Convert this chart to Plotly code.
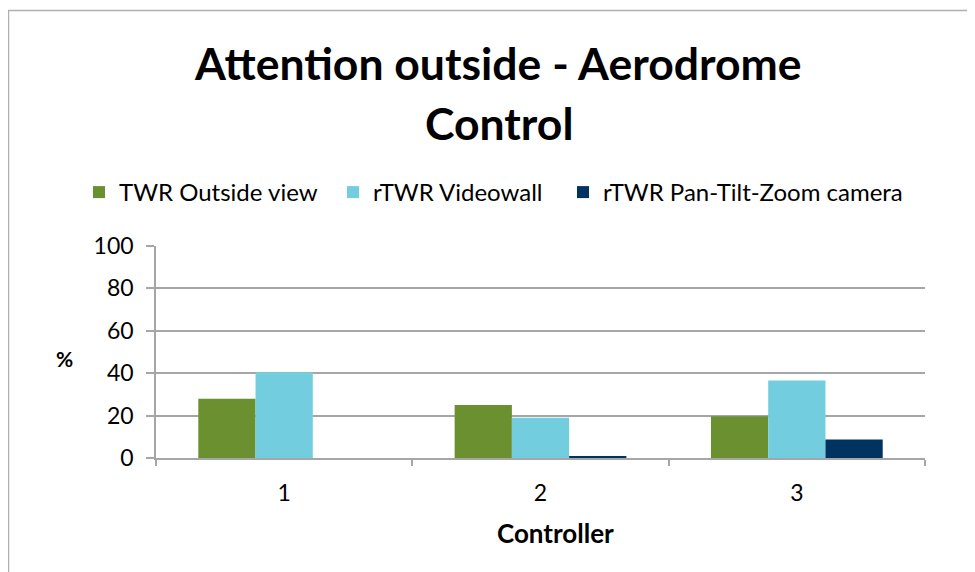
import plotly.graph_objects as go

controllers = ["1", "2", "3"]
series_names = ["TWR Outside view", "rTWR Videowall", "rTWR Pan-Tilt-Zoom camera"]
twr_outside = [28.0, 25.0, 19.7]
rtwr_videowall = [40.4, 19.0, 36.5]
rtwr_ptz = [0.0, 0.9, 8.7]
y_ticks = [0, 20, 40, 60, 80, 100]

colors = ["#6B9030", "#72CEDF", "#00335F"]
FONT = "Lato"
OFF = 8  # page body margin
W, H = 975 - OFF, 572 - OFF
L, R, T, B = 156 - OFF, 50, 246 - OFF, 114
PW, PH = W - L - R, H - T - B


def px(x):
    return (x - OFF - L) / PW


def py(y):
    return (H - B - (y - OFF)) / PH


fig = go.Figure()
legend_ids = ["legend", "legend2", "legend3"]
legend_x = [79, 333, 563]
for name, vals, c, lid in zip(series_names, [twr_outside, rtwr_videowall, rtwr_ptz], colors, legend_ids):
    fig.add_trace(go.Bar(name=name, x=controllers, y=vals, legend=lid,
                         marker=dict(color=c, line=dict(width=0))))

legend_common = dict(orientation="h", xanchor="left", y=py(192.5), yanchor="middle",
                     font=dict(size=24, family=FONT), bgcolor="rgba(0,0,0,0)")
layout_legends = {lid: dict(x=px(lx), **legend_common) for lid, lx in zip(legend_ids, legend_x)}

fig.update_layout(
    width=W, height=H,
    margin=dict(l=L, r=R, t=T, b=B, pad=0),
    paper_bgcolor="white", plot_bgcolor="white",
    barmode="group", bargap=0.33, bargroupgap=0,
    font=dict(family=FONT, color="black"),
    showlegend=True,
    xaxis=dict(type="category", tickson="boundaries", ticks="outside", ticklen=6, tickcolor="#a6a6a6",
               tickwidth=1.5, showline=True, linecolor="#a6a6a6", linewidth=1.5, showgrid=False,
               tickfont=dict(size=23, family=FONT), ticklabelstandoff=14),
    yaxis=dict(range=[0, 100], tickvals=y_ticks, ticks="outside", ticklen=8, tickcolor="#a6a6a6",
               tickwidth=1.5, showline=True, linecolor="#a6a6a6", linewidth=1.5,
               showgrid=True, gridcolor="#a6a6a6", gridwidth=1.5, zeroline=False,
               tickfont=dict(size=23, family=FONT), ticklabelstandoff=8),
    **layout_legends,
)

fig.add_annotation(text="<b>Attention outside - Aerodrome</b>", x=px(498), y=py(62), xref="paper", yref="paper",
                   showarrow=False, xanchor="center", yanchor="middle", font=dict(size=44.5, family=FONT))
fig.add_annotation(text="<b>Control</b>", x=px(499), y=py(123), xref="paper", yref="paper",
                   showarrow=False, xanchor="center", yanchor="middle", font=dict(size=44.5, family=FONT))
fig.add_annotation(text="<b>%</b>", x=px(64), y=py(358), xref="paper", yref="paper",
                   showarrow=False, xanchor="center", yanchor="middle", font=dict(size=21, family=FONT))
fig.add_annotation(text="<b>Controller</b>", x=px(555), y=py(533), xref="paper", yref="paper",
                   showarrow=False, xanchor="center", yanchor="middle", font=dict(size=26, family=FONT))

fig.add_shape(type="rect", xref="paper", yref="paper", x0=px(8.5), y0=py(600), x1=px(1000), y1=py(10.5),
              line=dict(color="#b0b0b0", width=1.5), fillcolor="rgba(0,0,0,0)", layer="below")

fig.write_html("out.html")
